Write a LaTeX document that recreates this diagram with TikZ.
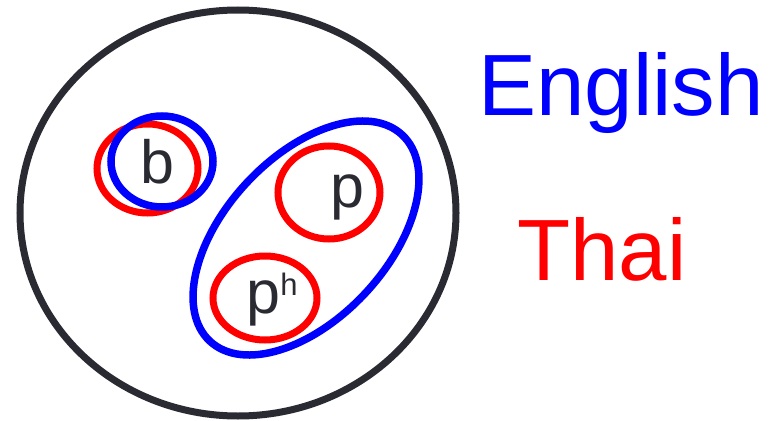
\documentclass[tikz,border=0pt]{standalone}
\usepackage{fontspec}
\setmainfont{Liberation Sans}
\definecolor{ink}{HTML}{2A2A33}
\definecolor{eng}{HTML}{0000FF}
\definecolor{thai}{HTML}{FF0000}
\tikzset{
  outer/.style={draw=ink, line width=7pt},
  engset/.style={draw=eng, line width=7.5pt},
  thaiset/.style={draw=thai, line width=7pt},
  phone/.style={text=ink, font=\fontsize{61}{61}\selectfont, anchor=base, inner sep=0pt},
  legend/.style={font=\fontsize{87}{87}\selectfont, anchor=base, inner sep=0pt}
}
\begin{document}
\begin{tikzpicture}[x=1pt,y=-1pt]
\useasboundingbox (0,0) rectangle (773,420);
% outer universe
\draw[outer] (238,213) ellipse [x radius=218, y radius=203];
% b sets
\draw[thaiset] (147.5,168.5) ellipse [x radius=50.5, y radius=44.5];
\draw[engset] (162,161.5) ellipse [x radius=51, y radius=45.5];
% English /p/ set
\draw[engset, rotate around={47:(306,238)}] (306,238) ellipse [x radius=141, y radius=81];
% Thai p and ph
\draw[thaiset] (329,192.5) ellipse [x radius=51, y radius=46.5];
\draw[thaiset] (265,298) ellipse [x radius=52, y radius=42];
% labels
\node[phone] (b) at (157.5,183) {b};
\node[phone] (p) at (347,207) {p};
\node[phone] (ph) at (272,313) {p\raisebox{18pt}{\fontsize{31}{31}\selectfont h}};
\node[legend, text=eng] (english) at (621,115) {English};
\node[legend, text=thai] (thailabel) at (602,280) {Thai};
\end{tikzpicture}
\end{document}
